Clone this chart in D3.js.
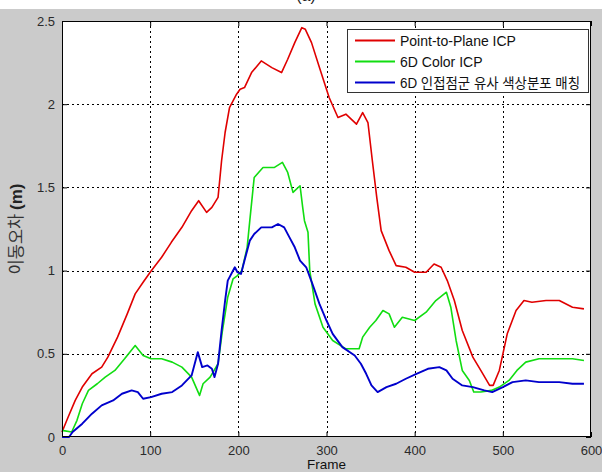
<!DOCTYPE html>
<html><head><meta charset="utf-8">
<script src="https://cdn.jsdelivr.net/npm/d3@7"></script>
<style>body{margin:0;background:#cbcbcb;} svg{display:block;}</style>
</head><body>
<svg id="chart" width="602" height="472"></svg>
<script>
const seriesNames = ["Point-to-Plane ICP", "6D Color ICP", "6D 인접점군 유사 색상분포 매칭"];
const seriesColors = ["#e00000", "#11dd11", "#0000cc"];
const xTicks = [0, 100, 200, 300, 400, 500, 600];
const yTicks = [0, 0.5, 1, 1.5, 2, 2.5];

const redFrames = [0,7,15,23,34,45,52,63,74,83,92,100,113,124,136,147,155,164,170,177,181,185,190,198,202,207,215,226,238,249,256,264,272,276,283,292,303,313,322,334,341,347,352,357,362,371,379,390,400,413,422,430,437,445,454,466,475,485,489,496,505,515,524,533,549,564,579,592];
const redVals = [0.03,0.12,0.22,0.30,0.38,0.42,0.48,0.60,0.74,0.86,0.93,0.99,1.08,1.17,1.26,1.36,1.42,1.35,1.38,1.44,1.66,1.83,1.98,2.06,2.09,2.10,2.19,2.26,2.22,2.19,2.27,2.37,2.46,2.45,2.37,2.22,2.04,1.92,1.94,1.88,1.95,1.89,1.66,1.44,1.24,1.12,1.03,1.02,0.99,0.99,1.04,1.02,0.94,0.82,0.64,0.48,0.40,0.31,0.31,0.40,0.62,0.76,0.82,0.81,0.82,0.82,0.78,0.77];

const greenFrames = [0,11,17,23,30,40,49,60,71,83,92,101,113,125,136,147,156,160,168,177,182,188,194,199,204,210,213,218,228,241,250,256,262,270,273,275,279,281,287,296,307,322,337,341,349,356,364,371,377,386,400,413,424,436,441,447,454,462,467,475,487,496,507,516,526,541,564,579,592];
const greenVals = [0.04,0.03,0.10,0.20,0.28,0.32,0.36,0.40,0.47,0.55,0.49,0.47,0.47,0.45,0.42,0.36,0.25,0.32,0.36,0.44,0.64,0.84,0.95,0.97,1.00,1.14,1.30,1.56,1.62,1.62,1.65,1.59,1.47,1.51,1.38,1.30,1.23,1.00,0.80,0.66,0.58,0.53,0.53,0.60,0.66,0.70,0.76,0.74,0.66,0.72,0.70,0.75,0.82,0.87,0.78,0.58,0.40,0.34,0.27,0.27,0.28,0.30,0.34,0.40,0.45,0.47,0.47,0.47,0.46];

const blueFrames = [0,8,12,23,34,45,58,68,79,86,92,101,113,125,136,147,154,159,165,170,173,177,181,185,188,196,199,203,207,213,218,226,238,245,252,258,264,270,277,284,292,300,307,318,332,339,345,351,358,368,379,390,402,415,428,436,443,454,466,479,488,500,511,526,541,564,579,592];
const blueVals = [0.00,0.00,0.03,0.08,0.14,0.19,0.22,0.26,0.28,0.27,0.23,0.24,0.26,0.27,0.31,0.37,0.51,0.42,0.43,0.41,0.36,0.44,0.64,0.82,0.94,1.02,0.99,0.98,1.06,1.18,1.22,1.26,1.26,1.28,1.26,1.20,1.14,1.06,1.02,0.92,0.80,0.70,0.62,0.54,0.49,0.44,0.38,0.31,0.27,0.30,0.32,0.35,0.38,0.41,0.42,0.40,0.35,0.31,0.30,0.28,0.27,0.30,0.33,0.34,0.33,0.33,0.32,0.32];

const W = 602, H = 472;
const L = 62, R = 591, T = 21, B = 437;
const svg = d3.select("#chart");
svg.append("rect").attr("width", W).attr("height", H).attr("fill", "#cbcbcb");
svg.append("rect").attr("width", W).attr("height", 9).attr("fill", "#fff");

const x = d3.scaleLinear().domain([0, 600]).range([L, R]);
const y = d3.scaleLinear().domain([0, 2.5]).range([B, T]);

svg.append("rect").attr("x", L).attr("y", T).attr("width", R - L).attr("height", B - T).attr("fill", "#fff");

// grid
const grid = svg.append("g").attr("stroke", "#000").attr("stroke-width", 1).attr("stroke-dasharray", "2,3");
xTicks.slice(1, -1).forEach(t => grid.append("line").attr("x1", Math.round(x(t)) + 0.5).attr("x2", Math.round(x(t)) + 0.5).attr("y1", T).attr("y2", B));
yTicks.slice(1, -1).forEach(t => grid.append("line").attr("y1", Math.round(y(t)) + 0.5).attr("y2", Math.round(y(t)) + 0.5).attr("x1", L).attr("x2", R));

// axes
const fontFam = "'Liberation Sans', Arial, sans-serif";
const xAxisB = d3.axisBottom(x).tickValues(xTicks).tickSize(-5).tickPadding(9).tickFormat(d3.format("d"));
const xAxisT = d3.axisTop(x).tickValues(xTicks).tickSize(-5).tickFormat("");
const yAxisL = d3.axisLeft(y).tickValues(yTicks).tickSize(-5).tickPadding(7).tickFormat(d => String(d));
const yAxisR = d3.axisRight(y).tickValues(yTicks).tickSize(-5).tickFormat("");

function styleAxis(g) {
  g.select(".domain").remove();
  g.selectAll("line").attr("stroke", "#000");
  g.selectAll("text").attr("fill", "#2a2a2a").attr("font-family", fontFam).attr("font-size", 13);
}
svg.append("g").attr("transform", `translate(0,${B})`).call(xAxisB).call(styleAxis);
svg.append("g").attr("transform", `translate(0,${T})`).call(xAxisT).call(styleAxis);
svg.append("g").attr("transform", `translate(${L},0)`).call(yAxisL).call(styleAxis);
svg.append("g").attr("transform", `translate(${R},0)`).call(yAxisR).call(styleAxis);

// lines
const series = [
  {f: redFrames, v: redVals},
  {f: greenFrames, v: greenVals},
  {f: blueFrames, v: blueVals}
];
const line = d3.line().x(d => x(d[0])).y(d => y(d[1]));
series.forEach((s, i) => {
  const pts = s.f.map((f, j) => [f, s.v[j]]);
  svg.append("path").datum(pts).attr("d", line).attr("fill", "none")
    .attr("stroke", seriesColors[i]).attr("stroke-width", i === 2 ? 1.9 : 1.6).attr("stroke-linejoin", "round");
});

// frame
svg.append("rect").attr("x", L + 0.5).attr("y", T + 0.5).attr("width", R - L - 1).attr("height", B - T - 1)
  .attr("fill", "none").attr("stroke", "#000").attr("stroke-width", 1);

// legend
const lg = svg.append("g");
lg.append("rect").attr("x", 347.5).attr("y", 29.5).attr("width", 241).attr("height", 63)
  .attr("fill", "#fff").attr("stroke", "#333").attr("stroke-width", 1);
seriesNames.forEach((n, i) => {
  const yy = 40.5 + i * 21;
  lg.append("line").attr("x1", 355).attr("x2", 395).attr("y1", yy).attr("y2", yy)
    .attr("stroke", seriesColors[i]).attr("stroke-width", 1.8);
  const t = lg.append("text").attr("x", 400).attr("y", yy + 5).text(n)
    .attr("font-family", fontFam + ", 'Noto Sans CJK KR'").attr("font-size", 14).attr("fill", "#111");
  if (i === 2) t.attr("textLength", 180).attr("lengthAdjust", "spacingAndGlyphs");
});

// labels
svg.append("text").attr("x", (L + R) / 2).attr("y", 469).attr("text-anchor", "middle")
  .attr("font-family", fontFam).attr("font-size", 13.5).attr("fill", "#111").text("Frame");
const yl = svg.append("text").attr("transform", "translate(22,229) rotate(-90)").attr("text-anchor", "middle")
  .attr("font-family", "'Noto Sans CJK KR', sans-serif").attr("font-size", 16.5).attr("fill", "#333");
yl.append("tspan").text("이동오차 ");
yl.append("tspan").attr("font-weight", "bold").attr("font-family", fontFam).attr("font-size", 17).attr("fill", "#222").text("(m)");

// title (cut off at the top, as in the source)
svg.append("text").attr("x", 306).attr("y", 1).attr("text-anchor", "middle")
  .attr("font-family", fontFam).attr("font-size", 16).attr("fill", "#222").text("(a)");
</script>
</body></html>
